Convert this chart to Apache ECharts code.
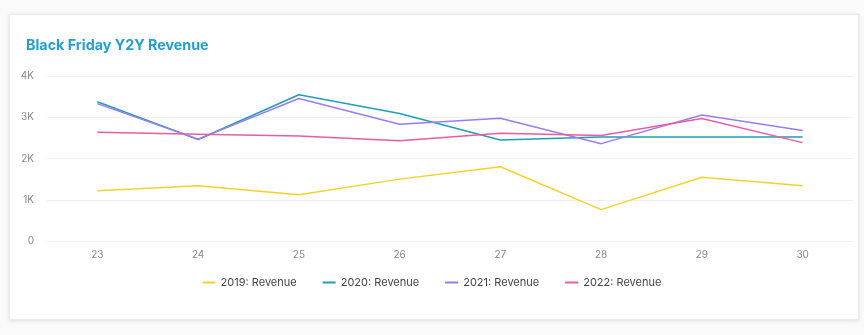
<!DOCTYPE html>
<html><head><meta charset="utf-8">
<script src="https://cdn.jsdelivr.net/npm/echarts@6/dist/echarts.min.js"></script>
<style>
html,body{margin:0;padding:0;background:#fafafa;width:864px;height:335px;overflow:hidden;}
#card{position:absolute;left:9px;top:14px;width:848px;height:304px;background:#fff;border:1px solid #ececf0;box-shadow:0 1px 4px rgba(0,0,0,0.12);}
#chart{position:absolute;left:0;top:0;width:864px;height:335px;}
</style></head>
<body>
<div id="card"></div>
<div id="chart"></div>
<script>
const categories = ['23','24','25','26','27','28','29','30'];
const rev2019 = [1220, 1340, 1120, 1500, 1800, 760, 1545, 1340];
const rev2020 = [3375, 2460, 3545, 3090, 2450, 2520, 2520, 2520];
const rev2021 = [3330, 2470, 3455, 2830, 2975, 2360, 3055, 2680];
const rev2022 = [2635, 2585, 2545, 2430, 2610, 2560, 2970, 2385];
const seriesNames = ['2019: Revenue','2020: Revenue','2021: Revenue','2022: Revenue'];
const colors = ['#f5d12a','#1e9fb5','#9b7cf0','#ea5ba6'];
const data = [rev2019, rev2020, rev2021, rev2022];

const chart = echarts.init(document.getElementById('chart'), null, {renderer:'canvas'});
chart.setOption({
  animation:false,
  textStyle:{fontFamily:'Inter, "Noto Sans", sans-serif'},
  title:{text:'Black Friday Y2Y Revenue', left:21, top:34,
    textStyle:{fontSize:14.3, fontWeight:'bold', color:'#229fd1', fontFamily:'Inter, sans-serif'}},
  grid:{left:47, right:11, top:76, bottom:94},
  legend:{data:seriesNames, bottom:42, left:'center', icon:'rect', itemWidth:13, itemHeight:2, itemGap:26,
    textStyle:{fontSize:11, color:'#444'}},
  xAxis:{type:'category', data:categories, boundaryGap:true,
    axisLine:{show:false}, axisTick:{show:false},
    axisLabel:{color:'#888', fontSize:10, margin:9}},
  yAxis:{type:'value', min:0, max:4000, interval:1000,
    axisLabel:{color:'#888', fontSize:10, margin:13, formatter:v=> v===0?'0':(v/1000)+'K'},
    splitLine:{lineStyle:{color:'#edf0f7'}}},
  series: data.map((d,i)=>({name:seriesNames[i], type:'line', data:d, symbol:'none',
    lineStyle:{width:1.5, color:colors[i]}, itemStyle:{color:colors[i]}}))
});
</script>
</body></html>
